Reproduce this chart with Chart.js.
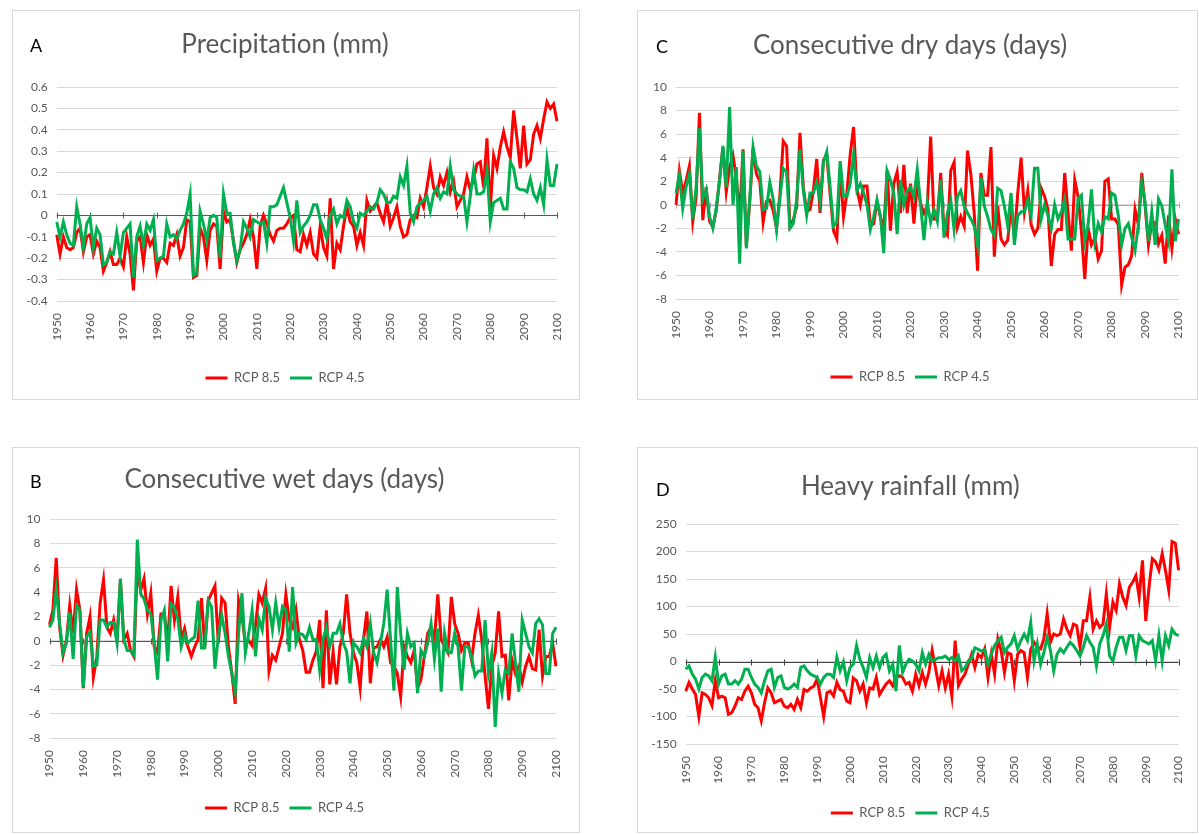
<!DOCTYPE html>
<html>
<head>
<meta charset="utf-8">
<script src="https://cdn.jsdelivr.net/npm/chart.js@4.4.1/dist/chart.umd.min.js"></script>
<style>
body { margin: 0; background: #fff; width: 1199px; height: 834px; overflow: hidden; position: relative; }
.panel { position: absolute; border: 1px solid #d9d9d9; box-sizing: border-box; background: #fff; }
.panel canvas { position: absolute; left: 0; top: 0; }
.tag { position: absolute; font: 18px Lato, sans-serif; color: #000; }
</style>
</head>
<body>
<div class="panel" id="pA" style="left:12px;top:10px;width:568px;height:390px"><canvas id="cA"></canvas><div class="tag" style="left:17px;top:23px">A</div></div>
<div class="panel" id="pC" style="left:637px;top:10px;width:561px;height:390px"><canvas id="cC"></canvas><div class="tag" style="left:18px;top:24px">C</div></div>
<div class="panel" id="pB" style="left:12px;top:447px;width:568px;height:386px"><canvas id="cB"></canvas><div class="tag" style="left:17px;top:22px">B</div></div>
<div class="panel" id="pD" style="left:637px;top:447px;width:561px;height:386px"><canvas id="cD"></canvas><div class="tag" style="left:18px;top:30px">D</div></div>
<script>
// categories
var years = [];
for (var yr = 1950; yr <= 2100; yr++) years.push(String(yr));

// A - precipitation anomaly (mm)
var precipRcp85 = [
  -0.09,-0.18,-0.10,-0.15,-0.16,-0.15,-0.08,-0.06,-0.17,-0.10,
  -0.09,-0.18,-0.12,-0.15,-0.26,-0.22,-0.17,-0.23,-0.23,-0.20,
  -0.24,-0.10,-0.18,-0.35,-0.12,-0.10,-0.22,-0.09,-0.14,-0.11,
  -0.26,-0.20,-0.20,-0.22,-0.13,-0.14,-0.09,-0.19,-0.15,-0.02,
  -0.03,-0.29,-0.28,-0.06,-0.10,-0.21,-0.07,-0.04,-0.05,-0.25,
  0.02,-0.03,-0.02,-0.12,-0.22,-0.16,-0.13,-0.09,-0.02,-0.10,
  -0.25,-0.05,0.00,-0.04,-0.09,-0.12,-0.07,-0.06,-0.06,-0.04,
  -0.01,0.00,-0.16,-0.17,-0.09,-0.14,-0.08,-0.18,-0.20,-0.05,
  -0.15,-0.19,0.08,-0.25,-0.13,-0.16,-0.05,0.04,-0.03,-0.05,
  -0.14,-0.08,-0.14,0.07,0.02,0.04,0.06,0.01,-0.03,0.06,
  -0.05,-0.01,0.04,-0.05,-0.10,-0.09,-0.02,0.00,-0.01,0.08,
  0.04,0.13,0.23,0.13,0.10,0.18,0.14,0.20,0.11,0.16,
  0.04,0.07,0.10,0.18,0.12,0.17,0.24,0.25,0.13,0.36,
  0.03,0.28,0.22,0.32,0.39,0.32,0.27,0.49,0.36,0.22,
  0.42,0.24,0.26,0.38,0.42,0.36,0.45,0.53,0.50,0.52,
  0.44
];
var precipRcp45 = [
  -0.03,-0.10,-0.03,-0.09,-0.13,-0.14,0.04,-0.04,-0.15,-0.04,
  -0.01,-0.15,-0.06,-0.09,-0.23,-0.22,-0.17,-0.18,-0.08,-0.19,
  -0.08,-0.06,-0.04,-0.29,-0.10,-0.05,-0.14,-0.04,-0.07,-0.02,
  -0.21,-0.20,-0.19,-0.04,-0.10,-0.09,-0.11,-0.07,-0.04,0.01,
  0.10,-0.28,-0.27,0.02,-0.04,-0.12,-0.01,0.00,-0.01,-0.20,
  0.10,0.01,0.01,-0.13,-0.21,-0.16,-0.03,-0.06,-0.10,-0.02,
  -0.03,-0.04,-0.03,-0.13,0.04,0.04,0.05,0.09,0.13,0.06,
  -0.01,-0.12,0.07,-0.08,-0.05,-0.03,0.00,0.05,0.05,-0.02,
  -0.06,-0.11,0.00,0.03,-0.04,0.00,-0.01,0.07,0.04,-0.03,
  -0.06,0.01,0.00,0.02,0.04,0.03,0.06,0.12,0.10,0.06,
  0.06,0.09,0.08,0.18,0.14,0.23,0.01,-0.03,0.04,0.06,
  0.07,0.09,0.02,0.10,0.13,0.08,0.11,0.10,0.23,0.12,
  0.10,0.09,0.09,-0.03,0.09,0.21,0.10,0.10,0.11,0.21,
  -0.03,0.06,0.07,0.08,0.03,0.03,0.25,0.22,0.13,0.12,
  0.12,0.11,0.17,0.10,0.07,0.13,0.05,0.26,0.14,0.14,
  0.24
];

// C - consecutive dry days
var cddRcp85 = [
  0.0,2.9,1.0,2.0,3.3,-1.4,0.6,7.8,-1.3,1.5,
  -1.4,-1.9,-0.5,2.2,4.9,1.1,3.2,4.2,2.3,-1.0,
  4.7,-3.5,0.2,4.8,2.6,2.0,-1.5,0.3,0.4,-0.5,
  -2.0,0.8,5.4,5.0,-1.8,-1.3,-0.2,6.1,1.5,-0.6,
  -0.4,1.2,3.9,-0.7,3.8,4.2,0.9,-2.2,-2.9,3.0,
  -1.0,1.0,4.3,6.6,1.3,0.0,1.6,1.6,-1.8,-1.6,
  0.3,-1.0,-2.2,2.9,-2.2,1.8,2.8,-0.7,3.4,-0.7,
  1.8,-1.6,1.8,0.1,-0.7,-0.1,5.8,-1.2,-1.2,2.7,
  -2.2,-2.6,2.9,3.6,-1.9,-1.0,-1.8,4.6,2.6,-0.7,
  -5.6,2.7,0.8,0.8,4.9,-4.4,-0.1,-2.9,-3.4,-3.0,
  -0.2,-2.7,1.0,4.0,-0.6,1.2,-1.7,-2.5,-2.0,1.4,
  0.7,-0.4,-5.2,-2.5,-2.1,-2.1,2.7,-0.6,-3.9,2.1,
  0.7,-2.3,-6.3,-2.0,-3.4,-2.8,-4.6,-3.9,2.0,2.2,
  -1.2,-1.2,-1.7,-6.8,-5.3,-5.1,-4.3,-0.4,-1.7,2.7,
  -0.1,-3.4,-1.5,-1.5,-3.3,-2.6,-5.0,-0.9,-3.7,-1.2,
  -2.5
];
var cddRcp45 = [
  1.0,2.5,-0.3,1.5,2.6,-1.2,1.5,6.5,0.5,1.3,
  -1.0,-2.0,-0.3,2.0,5.0,1.5,8.3,0.0,3.2,-5.0,
  4.6,-3.7,0.5,4.9,3.3,2.8,-0.4,-0.3,1.9,0.5,
  -2.1,0.5,3.1,2.8,-2.0,-1.6,0.4,4.7,1.2,-0.9,
  1.0,1.0,1.9,0.3,3.6,4.5,1.5,-1.8,-1.5,3.7,
  0.7,0.7,1.8,4.3,1.2,1.8,1.0,0.0,-2.1,-1.0,
  0.4,-1.0,-4.1,2.9,2.1,1.0,-2.5,2.1,0.0,1.2,
  1.5,0.7,3.0,0.0,-3.0,0.2,-1.5,-0.4,-1.4,2.1,
  -2.8,-0.7,0.4,-2.1,0.7,1.2,-0.1,-0.7,-1.2,-1.8,
  -3.4,2.3,-0.1,-1.0,-2.1,-2.6,1.4,1.2,-0.1,-1.8,
  1.0,-3.4,-0.9,-0.6,-0.6,0.4,-0.9,3.1,3.1,-1.2,
  0.0,-0.9,-2.0,0.0,-1.2,-0.6,0.5,-2.9,-2.9,-2.9,
  0.5,0.8,-3.1,-1.7,1.3,-3.1,-1.6,-2.3,-1.0,-1.2,
  1.0,0.8,-0.9,-3.4,-2.0,-1.6,-2.8,-3.9,-1.7,1.9,
  0.2,-3.1,-0.6,-3.4,0.5,-0.1,-1.7,-3.1,3.0,-3.1,
  -1.2
];

// B - consecutive wet days
var cwdRcp85 = [
  1.3,2.5,6.8,1.1,-1.2,0.0,2.9,0.6,4.2,2.5,
  -3.9,0.6,2.0,-3.0,-1.4,3.1,5.0,1.1,0.6,1.7,
  0.1,5.0,0.1,0.6,-0.8,-1.3,6.0,4.1,5.1,2.2,
  3.9,-0.5,-1.0,2.2,2.2,-0.2,4.5,1.7,3.6,0.1,
  1.0,-0.5,-1.3,-0.5,0.1,3.5,-0.5,3.3,3.9,4.5,
  -0.2,3.5,3.1,-0.5,-2.7,-5.2,3.3,2.0,-0.2,0.0,
  -0.4,1.2,3.8,3.1,4.3,-2.5,-1.2,-1.6,-0.5,0.6,
  3.8,1.7,1.1,2.5,0.1,-0.8,-2.6,-2.6,-1.6,-0.9,
  1.7,-3.9,2.5,-3.6,-0.9,-3.6,-0.5,0.6,3.8,0.6,
  -1.0,-1.8,-3.9,0.1,2.4,-3.5,-0.6,-0.5,0.1,-0.5,
  0.3,-1.8,-2.1,-2.7,-4.6,-0.5,-1.3,-1.8,-0.8,-3.9,
  -3.2,-1.3,0.6,1.1,0.1,3.8,0.1,-0.5,-1.0,3.6,
  1.4,0.6,-0.8,-0.2,-0.2,-1.6,0.6,2.1,0.1,-2.9,
  -5.6,-2.1,-1.0,2.4,-1.3,-1.2,-4.9,-1.6,-2.7,-2.1,
  -3.4,-2.1,-1.3,-2.3,-2.4,0.9,-2.9,-1.3,-1.3,-0.2,
  -2.1
];
var cwdRcp45 = [
  1.1,1.7,4.2,1.4,-1.0,-0.2,2.3,-1.5,2.9,2.5,
  -3.8,0.3,0.7,-2.1,-2.0,1.7,1.7,1.1,1.5,1.5,
  -0.2,5.1,0.1,-0.8,-0.8,-1.2,8.3,3.9,3.4,2.5,
  2.2,-0.2,-3.2,1.7,2.5,-1.7,3.0,2.7,1.8,-0.5,
  0.5,-0.2,0.1,0.3,3.3,-0.6,-0.6,3.3,2.8,-2.3,
  0.3,2.1,0.6,-1.3,-2.7,-4.2,0.6,3.9,-1.0,0.6,
  2.5,-1.3,1.8,0.9,3.5,2.8,0.9,3.1,1.1,2.8,
  2.5,-0.9,4.4,-0.2,0.6,0.5,0.1,1.1,0.1,0.1,
  -2.4,0.1,1.1,-0.5,0.6,0.6,1.4,-0.2,-0.9,-3.5,
  -0.2,-0.5,-1.0,0.2,-0.5,1.4,-1.0,-1.8,-0.2,1.4,
  4.2,0.1,-4.1,4.4,0.6,-2.4,0.6,-0.5,-0.2,-4.3,
  -0.8,-1.3,-0.2,1.4,-1.5,1.0,-4.2,0.6,-1.0,-1.0,
  0.6,-0.5,-4.1,-0.5,-0.5,-1.3,-2.9,-2.5,-2.5,1.7,
  -2.7,-1.0,-7.1,-2.7,-4.3,-2.4,-2.7,0.6,-1.8,-4.2,
  1.7,0.6,-0.5,-1.0,1.4,1.8,1.3,-2.7,-2.7,0.6,
  1.1
];

// D - heavy rainfall (mm)
var heavyRcp85 = [
  -54,-38,-50,-60,-100,-57,-60,-66,-80,-35,
  -66,-63,-66,-96,-93,-81,-66,-69,-54,-45,
  -57,-78,-84,-108,-75,-48,-57,-75,-72,-69,
  -81,-84,-78,-87,-69,-84,-51,-54,-48,-45,
  -32,-66,-100,-57,-54,-63,-38,-51,-54,-72,
  -75,-30,-35,-54,-41,-75,-48,-50,-29,-60,
  -50,-41,-35,-44,-29,-26,-29,-41,-38,-54,
  -23,-44,-20,-41,-20,20,-11,-44,-17,-48,
  -23,-63,38,-44,-32,-23,-5,13,-11,13,
  7,23,-29,13,-23,41,20,-20,16,13,
  -35,13,20,16,-29,22,35,26,23,41,
  87,35,50,47,50,77,59,47,68,65,
  26,74,74,117,59,74,62,68,123,62,
  108,93,141,117,102,135,144,156,117,184,
  74,135,187,181,166,196,166,130,218,215,
  166
];
var heavyRcp45 = [
  -14,-8,-23,-32,-50,-29,-23,-26,-35,8,
  -41,-26,-23,-41,-41,-35,-41,-32,-14,-14,
  -29,-41,-47,-57,-35,-17,-14,-47,-29,-26,
  -47,-50,-47,-41,-47,-11,-8,-17,-23,-26,
  -29,-41,-29,-23,-23,-29,8,-17,-1,-35,
  -11,-5,29,4,-11,-29,7,-11,10,-11,
  7,13,-17,-5,-54,29,-20,-5,4,1,
  -5,-17,16,-5,13,1,4,7,7,10,
  4,7,1,10,-17,-11,1,7,25,22,
  19,22,-5,13,29,38,44,16,26,32,
  47,23,38,50,38,71,1,32,-5,16,
  44,20,-17,13,23,16,26,35,29,20,
  10,26,47,35,26,-8,32,47,68,10,
  1,26,44,44,20,47,47,10,47,38,
  35,32,38,1,47,1,47,29,59,50,
  47
];

var seriesNames = ["RCP 8.5", "RCP 4.5"];
var seriesColors = ["#ff0000", "#00b050"];
var fontFamily = "Lato, 'Open Sans', sans-serif";

// draws the category axis line at y = 0 with a tick every 10 years (Excel style)
var zeroAxisPlugin = {
    id: "zeroAxis",
    beforeDatasetsDraw: function (chart, args, opts) {
        var xs = chart.scales.x, ys = chart.scales.y, ctx = chart.ctx;
        var area = chart.chartArea;
        var y0 = Math.round(ys.getPixelForValue(0)) + 0.5;
        ctx.save();
        ctx.strokeStyle = opts.color;
        ctx.lineWidth = 1;
        ctx.beginPath();
        ctx.moveTo(area.left, y0);
        ctx.lineTo(area.right, y0);
        for (var i = 0; i < years.length; i += 10) {
            var px = Math.round(xs.getPixelForValue(i)) + 0.5;
            ctx.moveTo(px, y0 - 3);
            ctx.lineTo(px, y0 + 3);
        }
        ctx.stroke();
        ctx.restore();
    }
};

function makePanel(id, box, geom, title, yAxis, data85, data45, zeroColor) {
    var canvas = document.getElementById(id);
    var cw = box.w - 2, ch = box.h - 2;
    canvas.width = cw;
    canvas.height = ch;
    canvas.style.width = cw + "px";
    canvas.style.height = ch + "px";

    var titleSize = 26, titleLine = titleSize * 1.2;
    var legendFont = 13, legendPad = 10, legendH = legendFont + legendPad + 10;
    var top = geom.top - 1, bottom = geom.bottom - 1, left = geom.left - 1, right = geom.right - 1;
    var titleTop = geom.titleY - 1 - titleLine / 2;
    var titleBottom = top - (geom.titleY - 1) - titleLine / 2;
    var legendTop = geom.legendY - 1 - (legendPad + legendFont / 2);
    var padBottom = ch - legendTop - legendH;
    var xAxisH = legendTop - bottom;

    return new Chart(canvas.getContext("2d"), {
        type: "line",
        data: {
            labels: years,
            datasets: [{
                label: seriesNames[0],
                data: data85,
                borderColor: seriesColors[0],
                backgroundColor: seriesColors[0],
                borderWidth: 3,
                pointRadius: 0,
                tension: 0,
                order: 1
            }, {
                label: seriesNames[1],
                data: data45,
                borderColor: seriesColors[1],
                backgroundColor: seriesColors[1],
                borderWidth: 3,
                pointRadius: 0,
                tension: 0,
                order: 0
            }]
        },
        options: {
            responsive: false,
            animation: false,
            events: [],
            layout: { padding: { left: 0, right: cw - right, top: 0, bottom: padBottom } },
            scales: {
                x: {
                    offset: false,
                    grid: { display: false },
                    border: { display: false },
                    ticks: {
                        autoSkip: false,
                        minRotation: 90,
                        maxRotation: 90,
                        padding: 4,
                        color: "#595959",
                        font: { size: 12, family: fontFamily },
                        callback: function (value, index) {
                            return index % 10 === 0 ? years[index] : null;
                        }
                    },
                    afterFit: function (scale) { scale.height = xAxisH; }
                },
                y: {
                    min: yAxis.min,
                    max: yAxis.max,
                    grid: { color: "#d9d9d9", drawTicks: false },
                    border: { display: false },
                    ticks: {
                        stepSize: yAxis.step,
                        padding: 9,
                        color: "#595959",
                        font: { size: 12, family: fontFamily },
                        callback: function (v) { return String(Math.round(v * 10) / 10); }
                    },
                    afterFit: function (scale) { scale.width = left; }
                }
            },
            plugins: {
                title: {
                    display: true,
                    text: title,
                    color: "#595959",
                    font: { size: titleSize, weight: "normal", family: fontFamily },
                    padding: { top: titleTop, bottom: titleBottom }
                },
                legend: {
                    position: "bottom",
                    labels: {
                        usePointStyle: true,
                        pointStyle: "line",
                        pointStyleWidth: 22,
                        padding: legendPad,
                        color: "#595959",
                        font: { size: legendFont, family: fontFamily },
                        sort: function (a, b) { return a.datasetIndex - b.datasetIndex; }
                    }
                },
                tooltip: { enabled: false },
                zeroAxis: { color: zeroColor }
            }
        },
        plugins: [zeroAxisPlugin]
    });
}

makePanel("cA", { w: 568, h: 390 },
    { left: 44.7, right: 545, top: 77, bottom: 291, titleY: 35, legendY: 368 },
    "Precipitation (mm)", { min: -0.4, max: 0.6, step: 0.1 },
    precipRcp85, precipRcp45, "#595959");

makePanel("cC", { w: 561, h: 390 },
    { left: 39, right: 545, top: 77, bottom: 289, titleY: 36, legendY: 367 },
    "Consecutive dry days (days)", { min: -8, max: 10, step: 2 },
    cddRcp85, cddRcp45, "#a6a6a6");

makePanel("cB", { w: 568, h: 386 },
    { left: 37.5, right: 544, top: 72, bottom: 291, titleY: 33, legendY: 361 },
    "Consecutive wet days (days)", { min: -8, max: 10, step: 2 },
    cwdRcp85, cwdRcp45, "#595959");

makePanel("cD", { w: 561, h: 386 },
    { left: 48.7, right: 545.7, top: 77, bottom: 297, titleY: 40, legendY: 366 },
    "Heavy rainfall (mm)", { min: -150, max: 250, step: 50 },
    heavyRcp85, heavyRcp45, "#404040");
</script>
</body>
</html>
